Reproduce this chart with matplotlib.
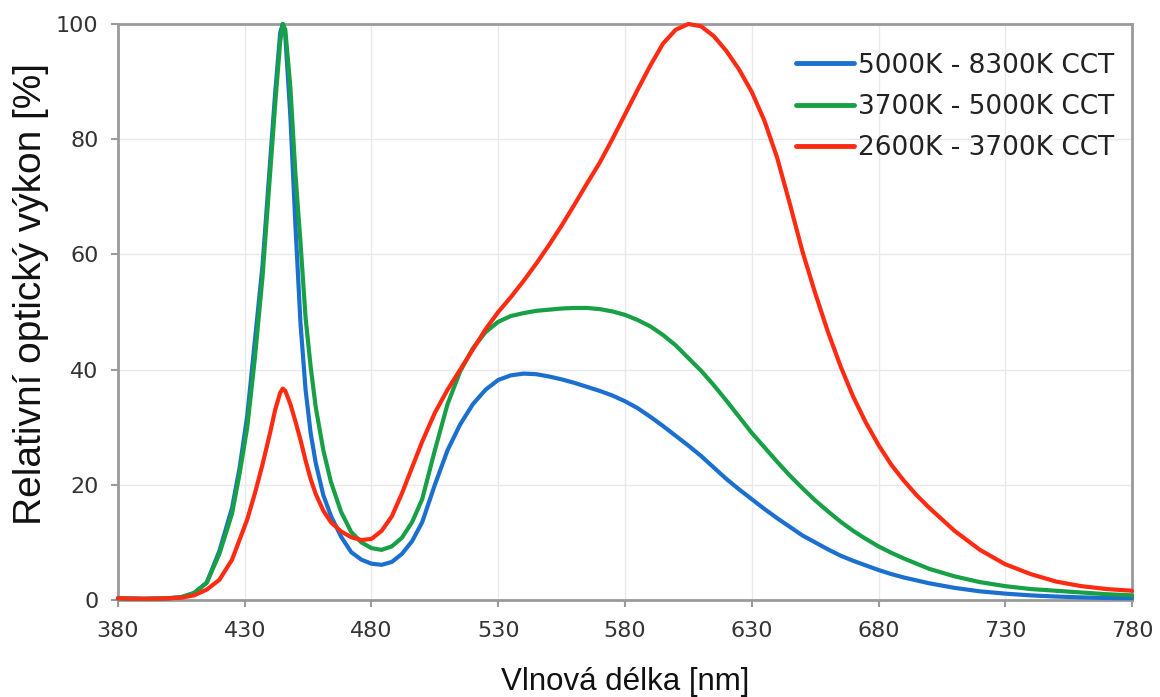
import matplotlib
matplotlib.use("Agg")
import matplotlib.pyplot as plt

# Wavelength grid [nm] shared by all three spectra
wavelength = [380, 390, 400, 405, 410, 415, 420, 425, 428, 431, 434, 437, 440, 442,
              444, 445, 446, 448, 450, 452, 454, 456, 458, 461, 464, 468, 472, 476,
              480, 484, 488, 492, 496, 500, 505, 510, 515, 520, 525, 530, 535, 540,
              545, 550, 555, 560, 565, 570, 575, 580, 585, 590, 595, 600, 605, 610,
              615, 620, 625, 630, 635, 640, 645, 650, 655, 660, 665, 670, 675, 680,
              685, 690, 695, 700, 710, 720, 730, 740, 750, 760, 770, 780]

# Relative optical power [%], 5000K - 8300K CCT
cool_white = [0.3, 0.2, 0.3, 0.5, 1.2, 3.0, 8.5, 16, 23, 32, 45, 58, 76, 88,
              98.5, 100, 98, 84, 65, 48, 36.5, 29, 23.8, 18.2, 14.6, 11, 8.3, 7.0,
              6.3, 6.1, 6.6, 8.0, 10.2, 13.5, 20, 26, 30.5, 34, 36.5, 38.2, 39.0, 39.3,
              39.2, 38.8, 38.3, 37.7, 37.0, 36.3, 35.5, 34.5, 33.3, 31.8, 30.2, 28.5, 26.8, 25.0,
              23.0, 21.0, 19.2, 17.5, 15.8, 14.2, 12.7, 11.2, 10.0, 8.8, 7.7, 6.8, 6.0, 5.2,
              4.5, 3.9, 3.4, 2.9, 2.1, 1.5, 1.1, 0.8, 0.6, 0.45, 0.35, 0.3]

# Relative optical power [%], 3700K - 5000K CCT
neutral_white = [0.3, 0.2, 0.3, 0.5, 1.2, 3.0, 8.0, 15, 22, 30, 42, 56, 74, 86,
                 97, 100, 99, 89, 74, 62, 49, 40.5, 33.5, 26, 20.5, 15.3, 11.8, 10.0,
                 9.0, 8.7, 9.3, 10.8, 13.5, 17.5, 26, 34, 39.7, 43.7, 46.5, 48.3, 49.3, 49.8,
                 50.2, 50.4, 50.6, 50.7, 50.7, 50.5, 50.1, 49.5, 48.6, 47.5, 46.0, 44.2, 42.0, 39.8,
                 37.3, 34.6, 31.8, 29.0, 26.5, 24.0, 21.6, 19.4, 17.3, 15.4, 13.6, 12.0, 10.6, 9.3,
                 8.2, 7.2, 6.3, 5.4, 4.1, 3.1, 2.4, 1.9, 1.6, 1.3, 1.0, 0.8]

# Relative optical power [%], 2600K - 3700K CCT
warm_white = [0.3, 0.2, 0.3, 0.4, 0.8, 1.8, 3.5, 7.0, 10.5, 14, 18.5, 23.5, 29, 33,
              36, 36.7, 36.3, 34, 31, 27.8, 24.2, 21, 18.4, 15.5, 13.5, 11.9, 10.9, 10.4,
              10.6, 12.0, 14.5, 18.5, 23.0, 27.5, 32.5, 36.5, 40.0, 43.5, 47.0, 50.0, 52.6, 55.4,
              58.4, 61.6, 65.0, 68.6, 72.3, 75.9, 80.0, 84.3, 88.6, 92.8, 96.6, 99.0, 100, 99.6,
              97.9, 95.3, 92.1, 88.2, 83.2, 76.8, 68.8, 60.5, 53.3, 46.6, 40.6, 35.3, 30.8, 26.9,
              23.5, 20.7, 18.2, 16.0, 12.0, 8.7, 6.2, 4.5, 3.2, 2.4, 1.9, 1.6]

series_labels = ["5000K - 8300K CCT", "3700K - 5000K CCT", "2600K - 3700K CCT"]
series_colors = ["#1b6fcf", "#17a045", "#ff2a12"]

x_ticks = [380, 430, 480, 530, 580, 630, 680, 730, 780]
y_ticks = [0, 20, 40, 60, 80, 100]

fig = plt.figure(figsize=(11.6, 6.97), dpi=100)
ax = fig.add_axes([0.1017, 0.1392, 0.8742, 0.8264])

for values, label, color in zip([cool_white, neutral_white, warm_white],
                                series_labels, series_colors):
    ax.plot(wavelength, values, color=color, lw=3.0, label=label,
            solid_joinstyle="round", solid_capstyle="round", clip_on=False, zorder=3)

ax.set_xlim(380, 780)
ax.set_ylim(0, 100)
ax.set_xticks(x_ticks)
ax.set_yticks(y_ticks)
ax.grid(True, color="#e9e9e9", lw=1.0, zorder=0)
ax.set_axisbelow(True)

for spine in ax.spines.values():
    spine.set_color("#9a9a9a")
    spine.set_linewidth(2.0)

ax.tick_params(axis="both", colors="#9a9a9a", length=5, width=1.5,
               labelcolor="#333333", labelsize=16)
ax.tick_params(axis="x", pad=10)
ax.tick_params(axis="y", pad=9)
for lbl in ax.get_xticklabels() + ax.get_yticklabels():
    lbl.set_family("DejaVu Sans")

ax.set_xlabel("Vlnová délka [nm]", family="Liberation Sans", fontsize=22.5,
              color="#111111", labelpad=19)
ax.set_ylabel("Relativní optický výkon [%]", family="Liberation Sans", fontsize=28,
              color="#111111")
ax.yaxis.set_label_coords(-0.068, 0.531)

leg = ax.legend(loc="upper right", bbox_to_anchor=(0.9931, 0.9688), borderaxespad=0.0,
                frameon=False, prop={"family": "DejaVu Sans", "size": 19},
                handlelength=2.2, handletextpad=0.15, labelspacing=0.58)
for line in leg.get_lines():
    line.set_linewidth(3.5)
for txt in leg.get_texts():
    txt.set_color("#222222")

fig.savefig("out.png", dpi=100, facecolor="white")
